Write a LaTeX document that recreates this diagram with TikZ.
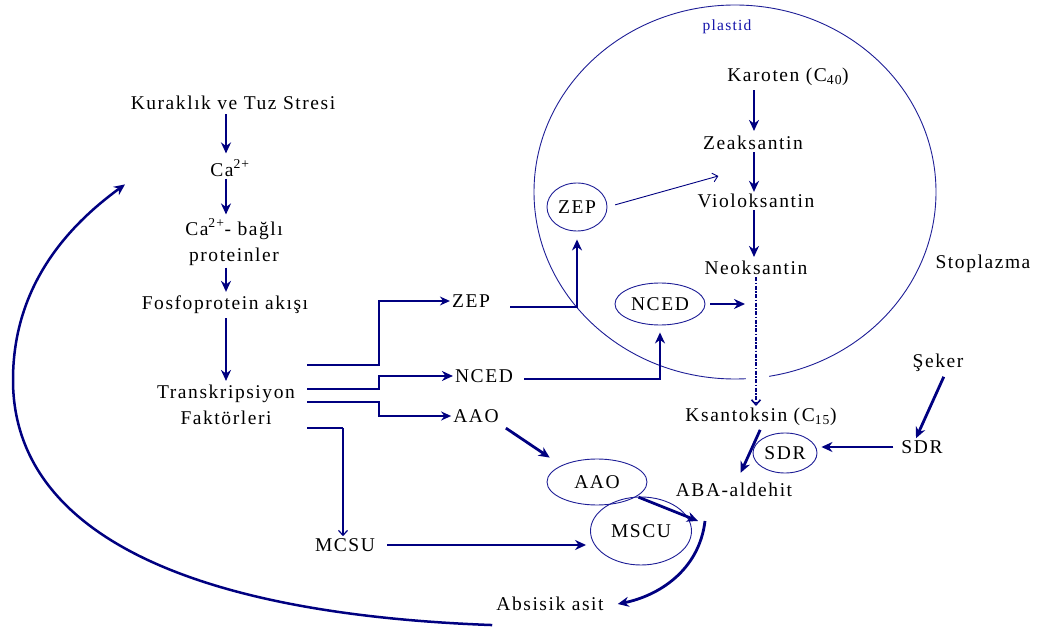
\documentclass[tikz,border=0pt]{standalone}
\usepackage{fontspec}
\setmainfont{Liberation Serif}[LetterSpace=8]
\usetikzlibrary{arrows.meta,calc,shapes.geometric}
\definecolor{navy}{RGB}{0,0,128}
\definecolor{ellb}{RGB}{30,30,150}
\definecolor{plb}{RGB}{20,20,170}
\begin{document}
\begin{tikzpicture}[x=1pt,y=-1pt,
  txt/.style={font=\fontsize{19.5}{26}\selectfont, inner sep=2pt, align=center},
  ell/.style={ellipse, draw=ellb, line width=0.9pt, inner sep=0pt, font=\fontsize{19.5}{22}\selectfont},
  thk/.style={draw=navy, line width=2.8pt, -{Stealth[length=11pt,width=10pt]}},
  mid/.style={draw=navy, line width=1.8pt, -{Stealth[length=10pt,width=9pt]}},
  thn/.style={draw=navy, line width=1.3pt, -{Stealth[length=10pt,width=9pt]}},
  barb/.style={draw=navy, line width=1.2pt, -{Straight Barb[length=5pt,width=9pt]}},
  dd/.style={draw=navy, line width=1.6pt, dash pattern=on 4pt off 1.5pt on 1.5pt off 1.5pt, -{Straight Barb[length=5pt,width=9pt]}},
]
\useasboundingbox (0,0) rectangle (1037,628);
% plastid
\draw[ellb, line width=0.9pt] (735,192) ellipse [x radius=201pt, y radius=187pt];
\fill[white] (746,368) rectangle (769,386);
\node[font=\fontsize{15.5}{18}\selectfont, text=plb] (plastid) at (727,27) {plastid};
\node[txt] (stop) at (983,264) {Stoplazma};

% left column
\coordinate (colx) at (226,0);
\node[txt] (kur) at (233,103) {Kuraklık ve Tuz Stresi};
\node[txt] (ca) at (230,168) {Ca\textsuperscript{2+}};
\node[txt] (cab) at (234,242) {Ca\textsuperscript{2+}- bağlı\\proteinler};
\node[txt] (fos) at (225,305) {Fosfoprotein akışı};
\node[txt] (tf) at (226,405) {Transkripsiyon\\Faktörleri};
\draw[thk, shorten <=2pt, shorten >=4pt] (colx |- kur.south) -- (colx |- ca.north);
\draw[thk, shorten >=2pt] (colx |- ca.south) -- (colx |- cab.north);
\draw[thk, shorten >=2pt] (colx |- cab.south) -- (colx |- fos.north);
\draw[thk, shorten <=2pt, shorten >=2pt] (colx |- fos.south) -- (colx |- tf.north);

% branches
\node[txt] (zept) at (471,301) {ZEP};
\node[txt] (ncedt) at (484,376) {NCED};
\node[txt] (aaot) at (476,416) {AAO};
\node[txt] (mcsu) at (345,545) {MCSU};
\coordinate (jx) at (379,0);
\coordinate (jm) at (343,0);
\coordinate (b1) at ([xshift=10pt,yshift=40pt]tf.east);
\coordinate (b2) at ([xshift=10pt,yshift=16pt]tf.east);
\coordinate (b3) at ([xshift=10pt,yshift=3pt]tf.east);
\coordinate (b4) at ([xshift=10pt,yshift=-23pt]tf.east);
\draw[thn] (b1) -- (b1 -| jx) |- (zept.west);
\draw[thk] (b2) -- (b2 -| jx) |- (ncedt.west);
\draw[mid] (b3) -- (b3 -| jx) |- (aaot.west);
\draw[navy, line width=2.6pt] (b4) -- (b4 -| jm);
\draw[barb] (b4 -| jm) -- (jm |- mcsu.north);

% plastid pathway
\coordinate (px) at (754,0);
\node[txt] (kar) at (788,77) {Karoten (C\textsubscript{40})};
\node[txt] (zea) at (753,143) {Zeaksantin};
\node[txt] (vio) at (756,201) {Violoksantin};
\node[txt] (neo) at (756,268) {Neoksantin};
\node[txt] (ksan) at (761,417) {Ksantoksin (C\textsubscript{15})};
\draw[thk, shorten <=2pt, shorten >=3pt] (px |- kar.south) -- (px |- zea.north);
\draw[thk] (px |- zea.south) -- (px |- vio.north);
\draw[thk, shorten >=2pt] (px |- vio.south) -- (px |- neo.north);
\draw[dd] (neo.south) -- (neo.south |- ksan.north);

% enzymes
\node[ell, minimum width=60pt, minimum height=48pt] (zepE) at (577,207) {ZEP};
\node[ell, minimum width=90pt, minimum height=42pt] (ncedE) at (660,304) {NCED};
\node[ell, minimum width=100pt, minimum height=46pt] (aaoE) at (597,482) {AAO};
\node[ell, minimum width=101pt, minimum height=68pt] (mscuE) at (641,531) {MSCU};
\node[ell, minimum width=64pt, minimum height=40pt] (sdrE) at (785,453) {SDR};

\draw[barb, line width=0.9pt, shorten <=8pt, shorten >=37pt] (zepE.east) -- ($(zea.south)!0.35!(vio.north)$);
\draw[thk, shorten >=8pt] ([xshift=18pt,yshift=-6pt]zept.east) -| (zepE.south);
\draw[thk, shorten >=7pt] ([xshift=9pt,yshift=-3pt]ncedt.east) -| (ncedE.south);
\draw[thk, shorten <=5pt, shorten >=11pt] (ncedE.east) -- (neo.south |- ncedE.east);
\draw[thk, shorten <=10pt, shorten >=4pt] (mcsu.east) -- (mcsu.east -| mscuE.west);
\draw[thk, shorten <=6pt, shorten >=14pt] (aaot.south east) -- (aaoE.north west);

% right side
\node[txt] (aba) at (734,490) {ABA-aldehit};
\node[txt] (abs) at (550,604) {Absisik asit};
\node[txt] (seker) at (938,363) {Şeker};
\node[txt] (sdrt) at (922,447) {SDR};
\coordinate (abaj) at ([xshift=-36pt,yshift=-31pt]aba.center);
\draw[thk, shorten <=2pt] (aaoE.-20) -- (abaj);
\draw[thk] ([xshift=7pt]abaj) .. controls +(-6,50) and +(40,-8) .. ([xshift=12pt]abs.east);
\draw[thk, shorten <=6pt, shorten >=4pt] (sdrt.west) -- (sdrt.west -| sdrE.east);
\draw[thk, shorten <=3pt] ([xshift=7pt]seker.south) -- ([xshift=-6pt]sdrt.north);
\draw[thk, shorten <=2pt, shorten >=9pt] ([xshift=0pt]ksan.south) -- ([xshift=3pt]aba.north);

% feedback
\coordinate (fb) at ([xshift=-105pt,yshift=-27pt]ca.north);
\draw[thk, line width=2.5pt] ([xshift=-2pt,yshift=-12pt]abs.south west) .. controls +(-330,-12) and +(0,140) .. (13,380) .. controls +(0,-90) and +(-62,45) .. (fb);
\end{tikzpicture}
\end{document}
